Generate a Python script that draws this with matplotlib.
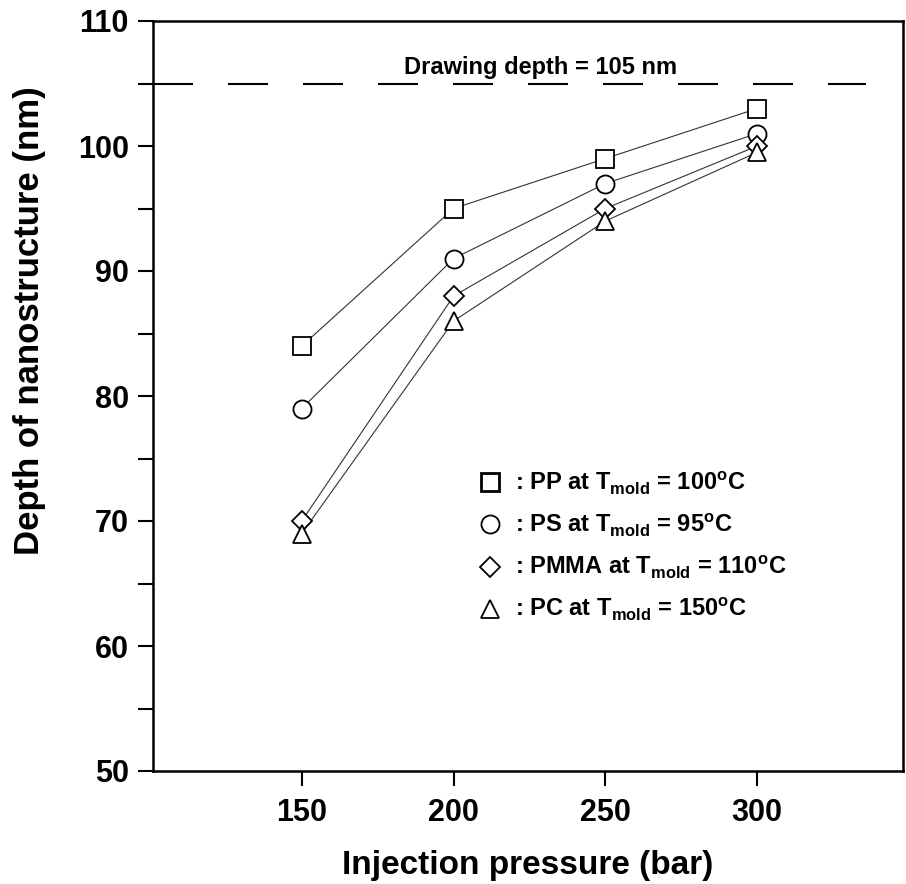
import matplotlib
matplotlib.use('Agg')
import matplotlib.pyplot as plt
from matplotlib.lines import Line2D
from matplotlib.ticker import MultipleLocator

plt.rcParams['font.family'] = ['Liberation Sans', 'DejaVu Sans']
plt.rcParams['font.weight'] = 'bold'
plt.rcParams['mathtext.fontset'] = 'custom'
plt.rcParams['mathtext.bf'] = 'Liberation Sans:bold'
plt.rcParams['mathtext.rm'] = 'Liberation Sans:bold'

pressure = [150, 200, 250, 300]
pp = [84, 95, 99, 103]
ps = [79, 91, 97, 101]
pmma = [70, 88, 95, 100]
pc = [69, 86, 94, 99.5]
drawing_depth = 105

series = [
    (pp, 's', r': PP at T$_{\mathbf{mold}}$ = 100$^{\mathrm{o}}$C'),
    (ps, 'o', r': PS at T$_{\mathbf{mold}}$ = 95$^{\mathrm{o}}$C'),
    (pmma, 'D', r': PMMA at T$_{\mathbf{mold}}$ = 110$^{\mathrm{o}}$C'),
    (pc, '^', r': PC at T$_{\mathbf{mold}}$ = 150$^{\mathrm{o}}$C'),
]
sizes = {'s': 13, 'o': 13, 'D': 10, '^': 13}

fig = plt.figure(figsize=(9.06, 8.84), dpi=100)
ax = fig.add_axes([153 / 906, 1 - 771 / 884, 750 / 906, 750 / 884])

handles = []
for vals, m, lab in series:
    ax.plot(pressure, vals, color='#333333', lw=0.8, zorder=2)
    ax.plot(pressure, vals, ls='none', marker=m, ms=sizes[m], mfc='white',
            mec='black', mew=1.3, zorder=3)
    handles.append(Line2D([], [], ls='none', marker=m, ms=sizes[m],
                          mfc='white', mec='black',
                          mew=2.0 if m == 's' else 1.3, label=lab))

# dashed reference line (starts at the spine, ends short of the right edge)
ax.axhline(drawing_depth, xmax=0.95, color='black', lw=1.5, dashes=(19.2, 16.8))
ax.text(228.5, drawing_depth + 1.3, 'Drawing depth = 105 nm', fontsize=17,
        fontweight='bold', ha='center', va='center')

ax.set_xlim(101, 348)
ax.set_ylim(50, 110)
ax.set_xticks(pressure)
ax.yaxis.set_major_locator(MultipleLocator(10))
ax.yaxis.set_minor_locator(MultipleLocator(5))
ax.tick_params(axis='both', which='both', direction='out', length=10.5, width=1.5,
               labelsize=22)
ax.tick_params(axis='x', pad=9)
ax.tick_params(axis='y', pad=7)
for sp in ax.spines.values():
    sp.set_linewidth(1.8)

ax.set_xlabel('Injection pressure (bar)', fontsize=24, fontweight='bold', labelpad=16)
ax.set_ylabel('Depth of nanostructure (nm)', fontsize=25, fontweight='bold')
ax.yaxis.set_label_coords(-0.143, 0.6)

ax.legend(handles=handles, loc='upper left', bbox_to_anchor=(0.434, 0.402),
          frameon=False, fontsize=17, labelspacing=0.64, handletextpad=0.55,
          borderpad=0, borderaxespad=0, handlelength=1.0)

fig.savefig('out.png', dpi=100)
